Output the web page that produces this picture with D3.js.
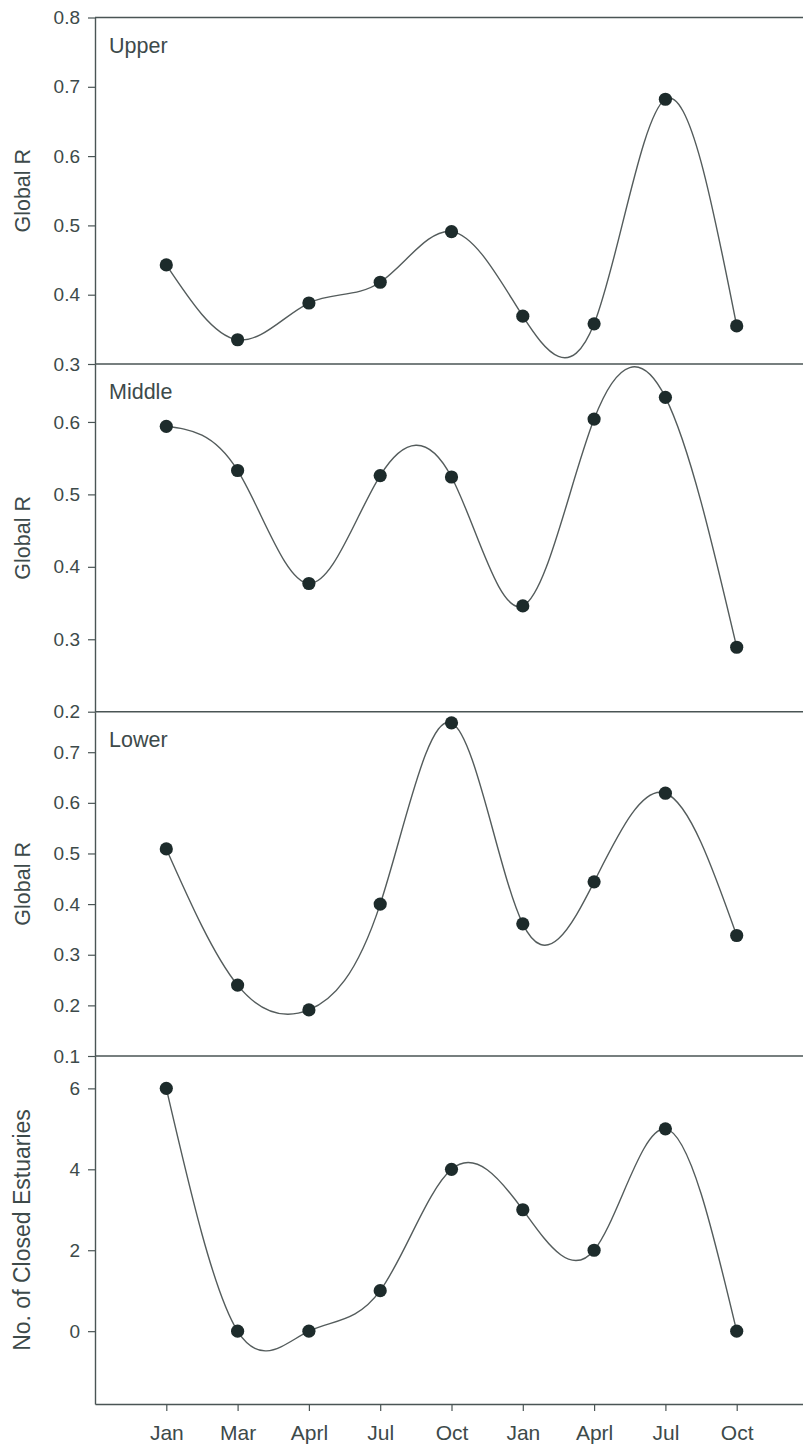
<!DOCTYPE html>
<html>
<head>
<meta charset="utf-8">
<script src="https://cdn.jsdelivr.net/npm/d3@7/dist/d3.min.js"></script>
<style>
  html, body { margin: 0; padding: 0; background: #fff; }
  svg { display: block; }
  text { font-family: "Liberation Sans", Arial, sans-serif; fill: #3d4a4a; }
</style>
</head>
<body>
<script>
// Sampling months along the x axis (two consecutive years)
const months = ["Jan", "Mar", "Aprl", "Jul", "Oct", "Jan", "Aprl", "Jul", "Oct"];

// Global R by estuary reach
const upperR  = [0.443, 0.335, 0.388, 0.418, 0.491, 0.369, 0.358, 0.682, 0.355];
const middleR = [0.594, 0.533, 0.377, 0.526, 0.524, 0.346, 0.604, 0.634, 0.289];
const lowerR  = [0.509, 0.240, 0.191, 0.400, 0.758, 0.361, 0.444, 0.619, 0.338];

// Number of estuaries closed to the sea
const closedCount = [6, 0, 0, 1, 4, 3, 2, 5, 0];

// Tick values for each panel
const upperTicks  = [0.3, 0.4, 0.5, 0.6, 0.7, 0.8];
const middleTicks = [0.2, 0.3, 0.4, 0.5, 0.6];
const lowerTicks  = [0.1, 0.2, 0.3, 0.4, 0.5, 0.6, 0.7];
const closedTicks = [0, 2, 4, 6];

const W = 803, H = 1451;
const left = 95, right = 808;

const svg = d3.select("body").append("svg")
  .attr("width", W).attr("height", H);

const x = d3.scalePoint()
  .domain(d3.range(months.length))
  .range([left, right])
  .padding(1);

const axisColor = "#4a5555";
const lineColor = "#545c5c";
const dotColor = "#1d2b2b";
const textColor = "#3d4a4a";

const panels = [
  { name: "Upper",  values: upperR,  ticks: upperTicks,  domain: [0.3, 0.8],   range: [364, 17.5],  fmt: d3.format(".1f"), title: "Global R", titleSize: 21.5 },
  { name: "Middle", values: middleR, ticks: middleTicks, domain: [0.2, 0.68],  range: [711.7, 364], fmt: d3.format(".1f"), title: "Global R", titleSize: 21.5 },
  { name: "Lower",  values: lowerR,  ticks: lowerTicks,  domain: [0.1, 0.78],  range: [1056, 711.7], fmt: d3.format(".1f"), title: "Global R", titleSize: 21.5 },
  { name: null,     values: closedCount, ticks: closedTicks, domain: [-1.8, 6.8], range: [1404, 1056], fmt: d3.format("d"), title: "No. of Closed Estuaries", titleSize: 23 }
];

panels.forEach(p => {
  const y = d3.scaleLinear().domain(p.domain).range(p.range);
  const g = svg.append("g");

  // top border of the panel
  g.append("line")
    .attr("x1", left).attr("x2", right)
    .attr("y1", y.range()[1]).attr("y2", y.range()[1])
    .attr("stroke", axisColor).attr("stroke-width", 1.4);

  // left axis
  const ax = g.append("g")
    .attr("transform", `translate(${left},0)`)
    .call(d3.axisLeft(y).tickValues(p.ticks).tickFormat(p.fmt)
      .tickSize(7).tickSizeOuter(0).tickPadding(8));
  ax.select(".domain").attr("stroke", axisColor).attr("stroke-width", 1.4);
  ax.selectAll(".tick line").attr("stroke", axisColor).attr("stroke-width", 1.2);
  ax.selectAll(".tick text")
    .attr("font-size", 19)
    .attr("fill", textColor);

  // axis title
  const cy = (p.range[0] + p.range[1]) / 2;
  g.append("text")
    .attr("transform", `translate(30,${cy}) rotate(-90)`)
    .attr("text-anchor", "middle")
    .attr("font-size", p.titleSize)
    .text(p.title);

  // panel label
  if (p.name) {
    g.append("text")
      .attr("x", 109)
      .attr("y", p.range[1] + 35)
      .attr("font-size", 21.5)
      .text(p.name);
  }

  // smoothed series line
  const line = d3.line()
    .x((d, i) => x(i))
    .y(d => y(d))
    .curve(d3.curveNatural);
  g.append("path")
    .datum(p.values)
    .attr("d", line)
    .attr("fill", "none")
    .attr("stroke", lineColor)
    .attr("stroke-width", 1.4);

  // data points
  g.selectAll("circle")
    .data(p.values)
    .join("circle")
    .attr("cx", (d, i) => x(i))
    .attr("cy", d => y(d))
    .attr("r", 6.6)
    .attr("fill", dotColor);
});

// bottom month axis
const bx = svg.append("g")
  .attr("transform", "translate(0,1404)")
  .call(d3.axisBottom(x).tickFormat(i => months[i])
    .tickSize(7).tickSizeOuter(0).tickPadding(14));
bx.select(".domain").attr("stroke", axisColor).attr("stroke-width", 1.4);
bx.selectAll(".tick line").attr("stroke", axisColor).attr("stroke-width", 1.2);
bx.selectAll(".tick text")
  .attr("font-size", 21)
  .attr("fill", textColor);
</script>
</body>
</html>
